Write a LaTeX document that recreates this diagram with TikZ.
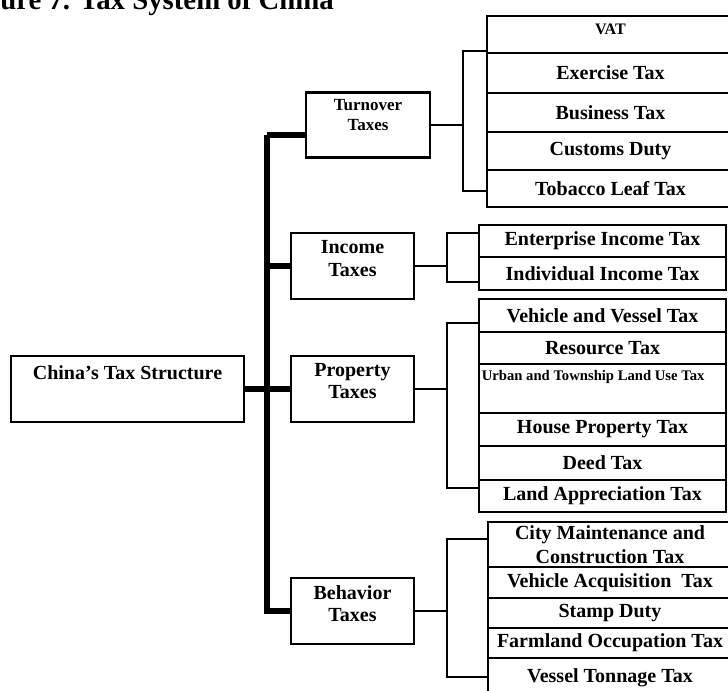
\documentclass[tikz,border=0pt]{standalone}
\usepackage{fontspec}
\setmainfont{Liberation Serif}
\usetikzlibrary{calc,positioning}
\tikzset{
 taxtree/.style={line cap=butt,line join=miter,font=\bfseries},
 taxbox/.style 2 args={draw,line width=1.8pt,inner sep=1pt,outer sep=0pt,align=center,
   minimum width=(#1)*0.75pt,minimum height=(#2)*0.75pt,anchor=north west},
 subtax/.style={font=\bfseries\fontsize{15}{18}\selectfont},
 toptext/.style={anchor=north,align=center,inner sep=0pt},
 bigtext/.style={font=\bfseries\fontsize{15}{16.9}\selectfont},
 smalltext/.style={font=\bfseries\fontsize{12.75}{15.4}\selectfont},
 link/.style={draw,line width=1.8pt},
 stub/.style={draw,line width=3.8pt},
 spine/.style={draw,line width=4.8pt},
 heading/.style={font=\bfseries\fontsize{21.6}{26}\selectfont,anchor=base west,inner sep=0pt}
}

\begin{document}
\begin{tikzpicture}[taxtree,x=0.75pt,y=-0.75pt]
 \path[use as bounding box] (0,0) rectangle (728,690);
 \clip (0,0) rectangle (728,690);
 \node[heading] (ttl) at (0,9) {ure 7. Tax System of China};
 \node[taxbox={233}{66},label={[toptext,bigtext,yshift=-7pt]north:China’s Tax Structure}] (china) at (11,356) {};
 \node[taxbox={124}{65},label={[toptext,smalltext,yshift=-4.9pt]north:{Turnover\\Taxes}}] (turn) at (306,92.5) {};
 \node[taxbox={123}{66},label={[toptext,bigtext,yshift=-5.5pt]north:{Income\\Taxes}}] (inc) at (291,233) {};
 \node[taxbox={123}{66},label={[toptext,bigtext,yshift=-5pt]north:{Property\\Taxes}}] (prop) at (291,356) {};
 \node[taxbox={123}{66},label={[toptext,bigtext,yshift=-5.3pt]north:{Behavior\\Taxes}}] (beh) at (291,578) {};
 \node[taxbox={247}{37},label={[toptext,font=\bfseries\fontsize{12}{14}\selectfont,yshift=-5.5pt]north:VAT}] (vat) at (487,16) {};
 \foreach \nm/\ya/\yb/\txt in {exc/53/93/Exercise Tax,bus/93/132/Business Tax,cus/132/170/Customs Duty,tob/170/207/Tobacco Leaf Tax}
  \node[taxbox={247}{\yb-\ya},subtax] (\nm) at (487,\ya) {\txt};
 \foreach \nm/\ya/\yb/\txt in {ent/225/257/Enterprise Income Tax,ind/257/290/Individual Income Tax,vv/299/332/Vehicle and Vessel Tax,res/332/364/Resource Tax,hou/413/446/House Property Tax,dee/446/480/Deed Tax,lan/480/512/Land Appreciation Tax}
  \node[taxbox={247}{\yb-\ya},subtax] (\nm) at (479,\ya) {\txt};
 \node[taxbox={247}{49},label={[anchor=north west,inner sep=0pt,font=\bfseries\fontsize{11}{13}\selectfont,xshift=1.9pt,yshift=-4.5pt]north west:Urban and Township Land Use Tax}] (urb) at (479,364) {};
 \foreach \nm/\ya/\yb/\txt in {city/522/567/{City Maintenance and\\Construction Tax},veh/567/598/Vehicle Acquisition~~Tax,sta/598/628/Stamp Duty,far/628/658/Farmland Occupation Tax,ves/658/698/Vessel Tonnage Tax}
  \node[taxbox={244}{\yb-\ya},subtax] (\nm) at (488,\ya) {\txt};
 \coordinate (trunk) at (267,0);
 \coordinate (tin) at ($(turn.west)+(0,10)$);
 \draw[stub] (tin) -- (trunk |- tin);
 \draw[spine] (trunk |- tin) -- (trunk |- beh.west) -- (beh.west);
 \draw[stub] (trunk |- inc.west) -- (inc.west);
 \draw[stub] (china.east) -- (prop.west);
 \draw[link] (turn.east) -- ++(33,0);
 \draw[link] ($(vat.west)+(0,16.5)$) -| ($(tob.west)+(-24,2.5)$) -- ($(tob.west)+(0,2.5)$);
 \draw[link] (inc.east) -- ++(33,0);
 \draw[link] ($(ent.west)+(0,-8)$) -| ($(ind.west)+(-32,8.5)$) -- ($(ind.west)+(0,8.5)$);
 \draw[link] (prop.east) -- ++(33,0);
 \draw[link] ($(vv.west)+(0,7.5)$) -| ($(lan.west)+(-32,-8)$) -- ($(lan.west)+(0,-8)$);
 \draw[link] (beh.east) -- ++(33,0);
 \draw[link] ($(city.west)+(0,-5.5)$) -| ($(ves.west)+(-41,-1)$) -- ($(ves.west)+(0,-1)$);
\end{tikzpicture}
\end{document}
